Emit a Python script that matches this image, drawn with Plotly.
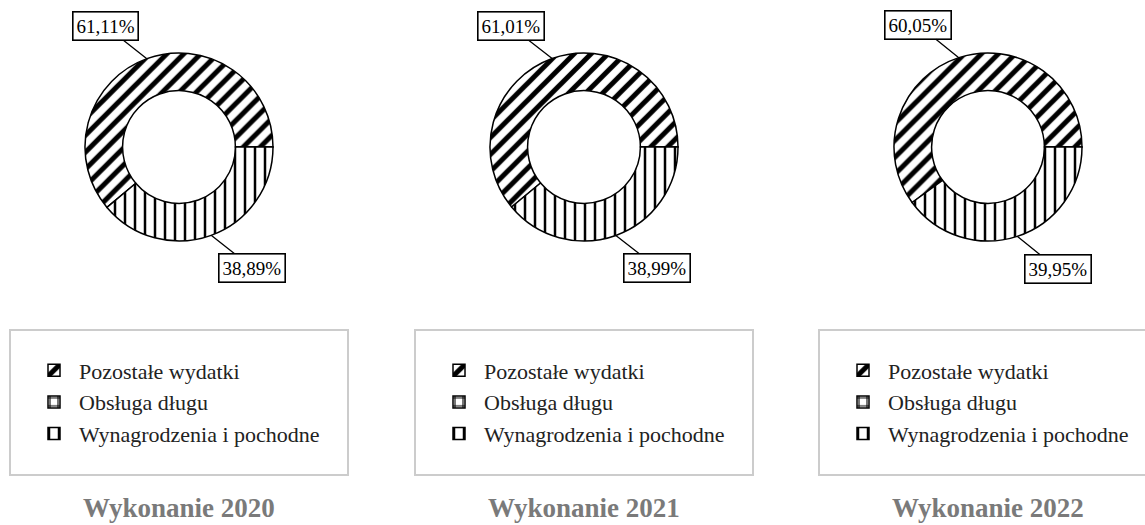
import math
import plotly.graph_objects as go

# ---------------- data ----------------
years = ["2020", "2021", "2022"]
titles = ["Wykonanie 2020", "Wykonanie 2021", "Wykonanie 2022"]
categories = ["Pozostałe wydatki", "Obsługa długu", "Wynagrodzenia i pochodne"]
pozostale = [61.11, 61.01, 60.05]
obsluga = [0.0, 0.0, 0.0]
wynagrodzenia = [38.89, 38.99, 39.95]

# ---------------- layout constants ----------------
W, H = 1145, 525
centers_x = [179, 584, 988]
cy = 147
R = 94
HOLE = 0.6
FONT = "Liberation Serif, Times New Roman, serif"

fig = go.Figure()
legend_keys = ["legend", "legend2", "legend3"]

for i, yr in enumerate(years):
    vals = [pozostale[i], obsluga[i], wynagrodzenia[i]]
    total = sum(vals)
    rot = 90 + 360 * wynagrodzenia[i] / total  # last slice ends at 3 o'clock
    cx = centers_x[i]
    # trailing spaces keep labels distinct per pie (so each legend shows them)
    labels_i = [c + " " * i for c in categories]
    fig.add_trace(go.Pie(
        labels=labels_i, values=vals, name=yr,
        hole=HOLE, sort=False, direction="clockwise", rotation=rot,
        domain=dict(x=[(cx - R) / W, (cx + R) / W],
                    y=[(H - cy - R) / H, (H - cy + R) / H]),
        marker=dict(
            colors=["white"] * 3,
            line=dict(color="black", width=1.5),
            pattern=dict(shape=["/", "+", "|"], fgcolor="black", bgcolor="white",
                         size=[12, 8, 10], solidity=[0.42, 0.25, 0.25],
                         fillmode="replace"),
        ),
        textinfo="none",
        legend=legend_keys[i],
        showlegend=True,
    ))

    # boxed percentage labels with leader lines
    start = rot
    for v in vals:
        share = v / total
        ang = start + 360 * share / 2
        start += 360 * share
        if v <= 0:
            continue
        th = math.radians(ang)
        px = cx + R * math.sin(th)
        py = cy - R * math.cos(th)
        L = 20
        ex = px + L * math.sin(th)
        ey = py - L * math.cos(th)
        sx = 1 if math.sin(th) >= 0 else -1
        sy = 1 if -math.cos(th) >= 0 else -1
        bw, bh = 69, 27
        bcx = ex + sx * bw / 2
        bcy = ey + sy * bh / 2
        txt = f"{v:.2f}%".replace(".", ",")
        fig.add_annotation(
            x=px / W, y=1 - py / H, xref="paper", yref="paper",
            ax=bcx - px, ay=bcy - py, axref="pixel", ayref="pixel",
            text=txt, showarrow=True, arrowhead=0, arrowwidth=1.3,
            arrowcolor="black", bordercolor="black", borderwidth=1.6,
            borderpad=3, bgcolor="white",
            font=dict(size=19, color="black", family=FONT),
        )

    # legend box frame
    fig.add_shape(type="rect", xref="paper", yref="paper",
                  x0=(cx - 169) / W, x1=(cx + 169) / W,
                  y0=(H - 475) / H, y1=(H - 330) / H,
                  line=dict(color="#cccccc", width=2),
                  fillcolor="rgba(0,0,0,0)", layer="below")

    # year title
    fig.add_annotation(x=cx / W, y=1 - 508 / H, xref="paper", yref="paper",
                       xanchor="center", yanchor="middle",
                       text=f"<b>{titles[i]}</b>", showarrow=False,
                       font=dict(size=27, color="#7a7a7a", family=FONT))

    fig.update_layout({legend_keys[i]: dict(
        x=(cx - 150) / W, xanchor="left",
        y=(H - 402) / H, yanchor="middle",
        font=dict(size=22, color="#222222", family=FONT),
        bgcolor="rgba(0,0,0,0)", borderwidth=0, itemwidth=40,
    )})

fig.update_layout(
    width=W, height=H,
    margin=dict(l=0, r=0, t=0, b=0),
    paper_bgcolor="white", plot_bgcolor="white",
    font=dict(family=FONT, color="black"),
)

fig.write_html("out.html", config={"displayModeBar": False},
               post_script="document.body.style.margin='0px';")
